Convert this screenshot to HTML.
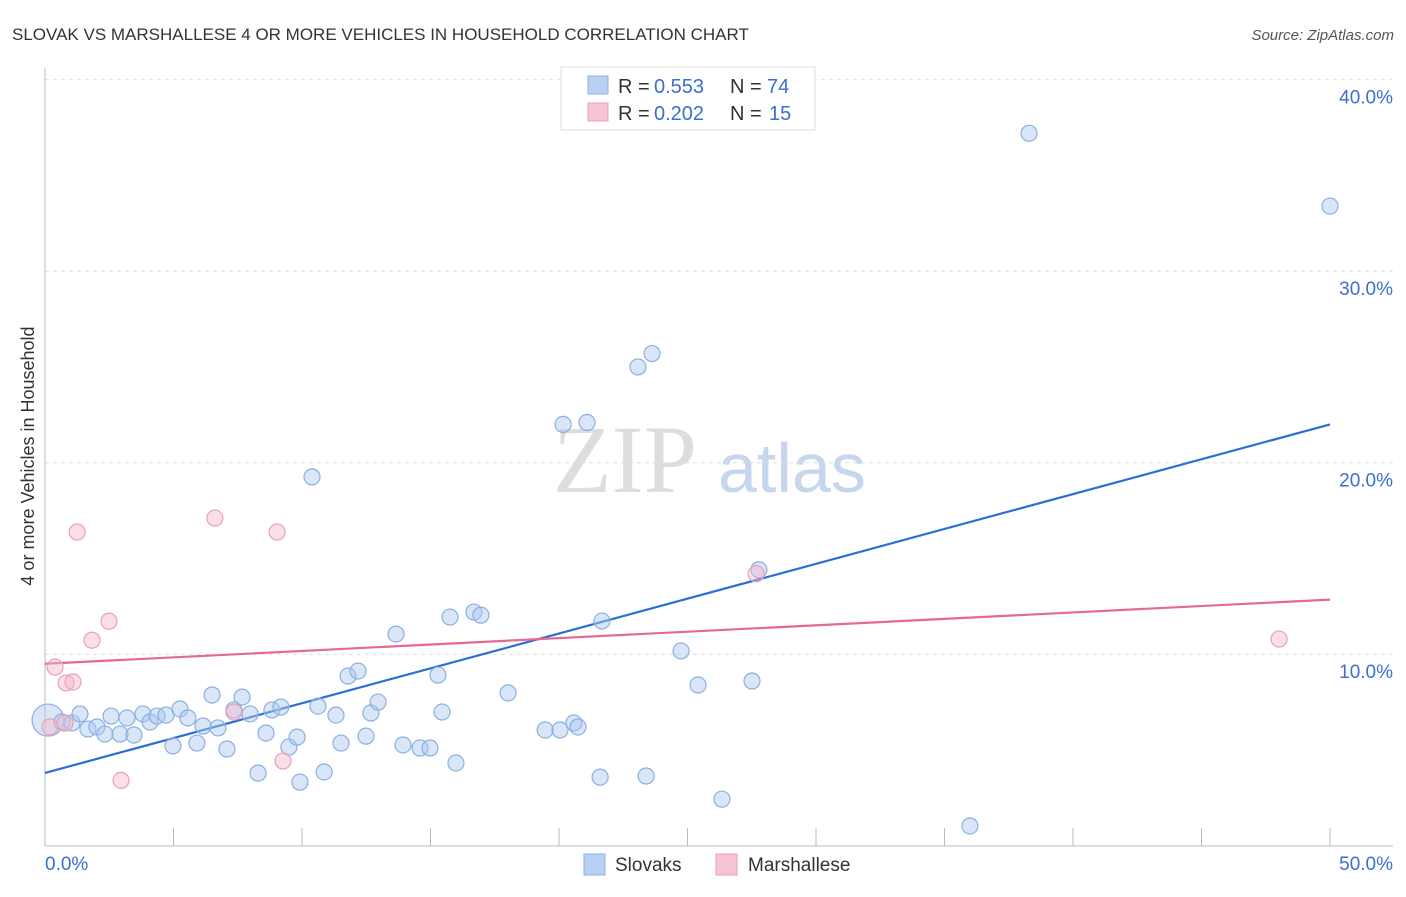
<!DOCTYPE html>
<html><head><meta charset="utf-8"><style>
body{margin:0;background:#fff;font-family:"Liberation Sans",sans-serif}
</style></head><body>
<svg width="1406" height="892" xmlns="http://www.w3.org/2000/svg" id="chart">
<text x="12" y="40" font-size="17" fill="#333">SLOVAK VS MARSHALLESE 4 OR MORE VEHICLES IN HOUSEHOLD CORRELATION CHART</text>
<text x="1394" y="40" font-size="15" fill="#555" font-style="italic" text-anchor="end">Source: ZipAtlas.com</text>
<text transform="translate(34,456) rotate(-90)" font-size="18" fill="#333" text-anchor="middle">4 or more Vehicles in Household</text>
<g>
<text x="553" y="492" font-size="96" font-family="Liberation Serif" fill="#ddd">ZIP</text>
<text x="718" y="492" font-size="70" fill="#c5d6ee">atlas</text>
</g>
<g id="grid"></g><g id="axes"></g><g id="trend"></g><g id="pts"></g>
<g>
<rect x="561" y="67" width="254" height="63" fill="#fff" stroke="#ddd"/>
<rect x="588" y="76" width="20" height="18" fill="#b8d0f3" stroke="#8ab0e0"/>
<rect x="588" y="103" width="20" height="18" fill="#f7c3d3" stroke="#e8a0b8"/>
<text x="618" y="93" font-size="20" fill="#333">R =</text>
<text x="654" y="93" font-size="20" fill="#3b6fd0">0.553</text>
<text x="730" y="93" font-size="20" fill="#333">N =</text>
<text x="767" y="93" font-size="20" fill="#3b6fd0">74</text>
<text x="618" y="120" font-size="20" fill="#333">R =</text>
<text x="654" y="120" font-size="20" fill="#3b6fd0">0.202</text>
<text x="730" y="120" font-size="20" fill="#333">N =</text>
<text x="769" y="120" font-size="20" fill="#3b6fd0">15</text>
</g>
<g>
<rect x="584" y="854" width="21" height="21" fill="#b8d0f3" stroke="#8ab0e0"/>
<text x="615" y="871" font-size="19" fill="#333">Slovaks</text>
<rect x="716" y="854" width="21" height="21" fill="#f7c3d3" stroke="#e8a0b8"/>
<text x="748" y="871" font-size="19" fill="#333">Marshallese</text>
</g>
</svg>
<script>
const blueX=[0.12,0.66,1.05,1.36,1.67,2.02,2.33,2.57,2.92,3.19,3.46,3.81,4.09,4.36,4.71,4.98,5.25,5.56,5.91,6.15,6.50,6.73,7.08,7.35,7.67,7.98,8.29,8.60,8.83,9.18,9.49,9.81,9.92,10.39,10.62,10.86,11.32,11.52,11.79,12.18,12.49,12.68,12.96,13.66,13.93,14.59,14.98,15.29,15.45,15.76,15.99,16.69,16.96,18.02,19.46,20.04,20.16,20.58,20.74,21.09,21.60,21.67,23.07,23.39,23.62,24.75,25.41,26.34,27.51,27.78,35.99,38.29,50.0];
const blueY=[6.56,6.46,6.41,6.88,6.09,6.20,5.83,6.77,5.83,6.67,5.78,6.88,6.46,6.77,6.82,5.21,7.14,6.67,5.36,6.25,7.87,6.15,5.05,7.09,7.76,6.88,3.79,5.88,7.09,7.24,5.15,5.67,3.32,19.26,7.29,3.85,6.82,5.36,8.86,9.12,5.72,6.93,7.50,11.05,5.26,5.10,5.10,8.91,6.98,11.94,4.32,12.20,12.04,7.98,6.04,6.04,22.0,6.41,6.20,22.1,3.58,11.73,25.0,3.64,25.7,10.17,8.39,2.43,8.60,14.41,1.03,37.2,33.4];
const pinkX=[0.39,0.82,1.09,1.25,1.83,2.49,2.96,6.61,7.35,9.03,9.26,27.67,48.02,0.19,0.78];
const pinkY=[9.33,8.50,8.55,16.38,10.73,11.72,3.41,17.11,6.98,16.38,4.42,14.2,10.79,6.2,6.4];
const blueTrend=[3.8,22.0];
const pinkTrend=[9.5,12.85];
const yTicks=[10,20,30,40];
const yTickLabels=["10.0%","20.0%","30.0%","40.0%"];
const NS="http://www.w3.org/2000/svg";
const sx=v=>45+v*25.7, sy=v=>845.7-v*19.15;
function mk(tag,attrs,parent){const e=document.createElementNS(NS,tag);for(const k in attrs)e.setAttribute(k,attrs[k]);document.getElementById(parent).appendChild(e);return e;}
yTicks.forEach((t,i)=>{
 const l=mk('line',{x1:45,x2:1393,y1:sy(t),y2:sy(t),stroke:'#ddd','stroke-dasharray':'4,4'},'grid');
 
 
 const tx=mk('text',{x:1393,y:sy(t)+24,'font-size':19,fill:'#3b6fd0','text-anchor':'end'},'axes');
 tx.textContent=yTickLabels[i];
 
 
});
mk('line',{x1:45,x2:45,y1:68,y2:846,stroke:'#bbb'},'axes');
mk('line',{x1:45,x2:1393,y1:846,y2:846,stroke:'#bbb'},'axes');
for(let i=1;i<=10;i++){mk('line',{x1:sx(i*5),x2:sx(i*5),y1:828,y2:846,stroke:'#bbb'},'axes');}
let t0=mk('text',{x:45,y:870,'font-size':19,fill:'#3b6fd0'},'axes');t0.textContent='0.0%';


let t1=mk('text',{x:1393,y:870,'font-size':19,fill:'#3b6fd0','text-anchor':'end'},'axes');t1.textContent='50.0%';


blueX.forEach((x,i)=>{
 const c=mk('circle',{cx:sx(x),cy:sy(blueY[i]),r:i==0?16:8,fill:'rgba(170,200,240,0.45)',stroke:'#8ab0e0','stroke-width':1.2},'pts');
 
 
});
pinkX.forEach((x,i)=>{
 const c=mk('circle',{cx:sx(x),cy:sy(pinkY[i]),r:8,fill:'rgba(245,185,205,0.45)',stroke:'#e8a0b8','stroke-width':1.2},'pts');
 
 
});
const bl=mk('line',{x1:sx(0),y1:sy(blueTrend[0]),x2:sx(50),y2:sy(blueTrend[1]),stroke:'#2a6fd6','stroke-width':2.2},'trend');


const pl=mk('line',{x1:sx(0),y1:sy(pinkTrend[0]),x2:sx(50),y2:sy(pinkTrend[1]),stroke:'#e36a93','stroke-width':2.2},'trend');


</script>
</body></html>
